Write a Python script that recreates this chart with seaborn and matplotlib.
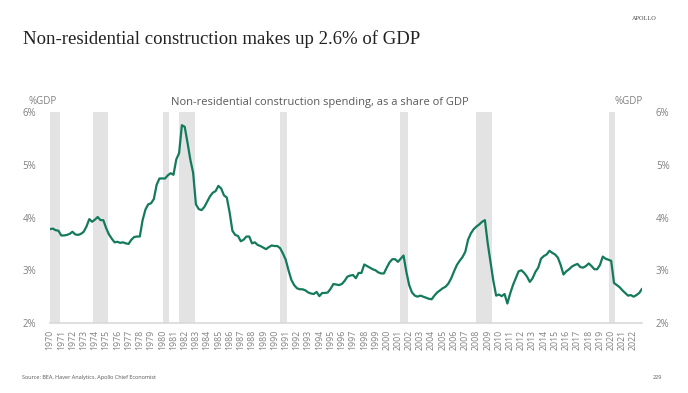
import numpy as np
import pandas as pd
import matplotlib.pyplot as plt
import seaborn as sns

# quarterly non-residential construction spending, % of GDP
y1970 = [3.78, 3.79, 3.76, 3.75]
y1971 = [3.66, 3.66, 3.67, 3.69]
y1972 = [3.73, 3.68, 3.67, 3.69]
y1973 = [3.73, 3.83, 3.97, 3.92]
y1974 = [3.96, 4.01, 3.95, 3.95]
y1975 = [3.80, 3.68, 3.60, 3.53]
y1976 = [3.54, 3.52, 3.53, 3.51]
y1977 = [3.50, 3.58, 3.63, 3.64]
y1978 = [3.64, 3.95, 4.15, 4.25]
y1979 = [4.27, 4.35, 4.62, 4.74]
y1980 = [4.74, 4.74, 4.80, 4.84]
y1981 = [4.81, 5.10, 5.22, 5.75]
y1982 = [5.72, 5.42, 5.10, 4.85]
y1983 = [4.25, 4.16, 4.14, 4.20]
y1984 = [4.30, 4.40, 4.47, 4.50]
y1985 = [4.60, 4.55, 4.42, 4.38]
y1986 = [4.10, 3.75, 3.67, 3.65]
y1987 = [3.55, 3.58, 3.64, 3.64]
y1988 = [3.51, 3.53, 3.48, 3.46]
y1989 = [3.43, 3.40, 3.44, 3.47]
y1990 = [3.46, 3.46, 3.42, 3.32]
y1991 = [3.20, 3.00, 2.82, 2.72]
y1992 = [2.66, 2.64, 2.64, 2.62]
y1993 = [2.58, 2.56, 2.55, 2.59]
y1994 = [2.51, 2.57, 2.57, 2.58]
y1995 = [2.65, 2.74, 2.73, 2.72]
y1996 = [2.74, 2.80, 2.88, 2.90]
y1997 = [2.91, 2.85, 2.95, 2.95]
y1998 = [3.11, 3.08, 3.05, 3.02]
y1999 = [3.00, 2.96, 2.94, 2.94]
y2000 = [3.05, 3.15, 3.21, 3.21]
y2001 = [3.16, 3.22, 3.28, 2.97]
y2002 = [2.72, 2.58, 2.52, 2.50]
y2003 = [2.52, 2.50, 2.48, 2.46]
y2004 = [2.45, 2.52, 2.58, 2.62]
y2005 = [2.66, 2.69, 2.75, 2.85]
y2006 = [2.98, 3.10, 3.18, 3.25]
y2007 = [3.35, 3.58, 3.70, 3.78]
y2008 = [3.83, 3.87, 3.92, 3.95]
y2009 = [3.51, 3.15, 2.80, 2.52]
y2010 = [2.54, 2.51, 2.55, 2.37]
y2011 = [2.56, 2.72, 2.85, 2.98]
y2012 = [3.00, 2.95, 2.88, 2.78]
y2013 = [2.85, 2.97, 3.05, 3.22]
y2014 = [3.27, 3.30, 3.37, 3.33]
y2015 = [3.30, 3.24, 3.10, 2.92]
y2016 = [2.98, 3.02, 3.07, 3.10]
y2017 = [3.12, 3.06, 3.05, 3.08]
y2018 = [3.13, 3.08, 3.02, 3.02]
y2019 = [3.10, 3.26, 3.22, 3.20]
y2020 = [3.18, 2.76, 2.72, 2.68]
y2021 = [2.62, 2.57, 2.52, 2.53]
y2022 = [2.50, 2.53, 2.57, 2.65]

years = list(range(1970, 2023))
share = (y1970 + y1971 + y1972 + y1973 + y1974 + y1975 + y1976 + y1977 + y1978 + y1979
         + y1980 + y1981 + y1982 + y1983 + y1984 + y1985 + y1986 + y1987 + y1988 + y1989
         + y1990 + y1991 + y1992 + y1993 + y1994 + y1995 + y1996 + y1997 + y1998 + y1999
         + y2000 + y2001 + y2002 + y2003 + y2004 + y2005 + y2006 + y2007 + y2008 + y2009
         + y2010 + y2011 + y2012 + y2013 + y2014 + y2015 + y2016 + y2017 + y2018 + y2019
         + y2020 + y2021 + y2022)

# NBER recessions (start, end) as fractional years
rec_start = [1969.92, 1973.83, 1980.08, 1981.5, 1990.5, 2001.17, 2007.92, 2019.8]
rec_end = [1970.9, 1975.2, 1980.6, 1982.9, 1991.1, 2001.9, 2009.4, 2020.33]

t = [y + q / 4 for y in years for q in range(4)]
df = pd.DataFrame({'t': t, 'share': share})

sns.set_style("white")
plt.rcParams['font.family'] = ['Open Sans', 'DejaVu Sans']

grey = '#808080'
fig = plt.figure(figsize=(6.88, 3.93), dpi=100)
ax = fig.add_axes([0.0727, 0.178, 0.8605, 0.537])

for s, e in zip(rec_start, rec_end):
    ax.axvspan(s, e, color='#e3e3e3', lw=0, zorder=0)

sns.lineplot(data=df, x='t', y='share', ax=ax, color='#137a5c', lw=1.6)

ax.set_xlim(1970, 2022.75)
ax.set_ylim(2, 6)
ax.set_xticks(years)
ax.set_xticklabels([str(y) for y in years], rotation=90, fontsize=6.3, color=grey)
ax.set_yticks([2, 3, 4, 5, 6])
ax.set_yticklabels(['2%', '3%', '4%', '5%', '6%'], fontsize=7, color=grey)
ax.tick_params(axis='x', length=3, width=0.6, color='#d0d0d0', pad=2)
ax.tick_params(axis='y', length=0, pad=10)
ax.set_xlabel('')
ax.set_ylabel('')
for sp in ['top', 'left', 'right']:
    ax.spines[sp].set_visible(False)
ax.spines['bottom'].set_color('#d9d9d9')
ax.spines['bottom'].set_linewidth(1.2)

ax2 = ax.twinx()
ax2.set_ylim(2, 6)
ax2.set_yticks([2, 3, 4, 5, 6])
ax2.set_yticklabels(['2%', '3%', '4%', '5%', '6%'], fontsize=7, color=grey)
ax2.tick_params(axis='y', length=0, pad=10)
for sp in ['top', 'left', 'right', 'bottom']:
    ax2.spines[sp].set_visible(False)

fig.text(0.041, 0.735, '%GDP', fontsize=7, color=grey)
fig.text(0.893, 0.735, '%GDP', fontsize=7, color=grey)
fig.text(0.465, 0.733, 'Non-residential construction spending, as a share of GDP',
         fontsize=8, color='#595959', ha='center')

fig.text(0.033, 0.9, 'Non-residential construction makes up 2.6% of GDP',
         fontsize=13.5, color='#222222', family='Liberation Serif', va='center')
fig.text(0.955, 0.953, 'APOLLO', fontsize=4.5, color='#444444',
         family='Liberation Serif', ha='right', va='center')
fig.text(0.032, 0.04, 'Source: BEA, Haver Analytics, Apollo Chief Economist',
         fontsize=4, color='#555555', va='center')
fig.text(0.962, 0.04, '229', fontsize=4, color='#555555', ha='right', va='center')

plt.savefig('out.png', dpi=100)
plt.close()
